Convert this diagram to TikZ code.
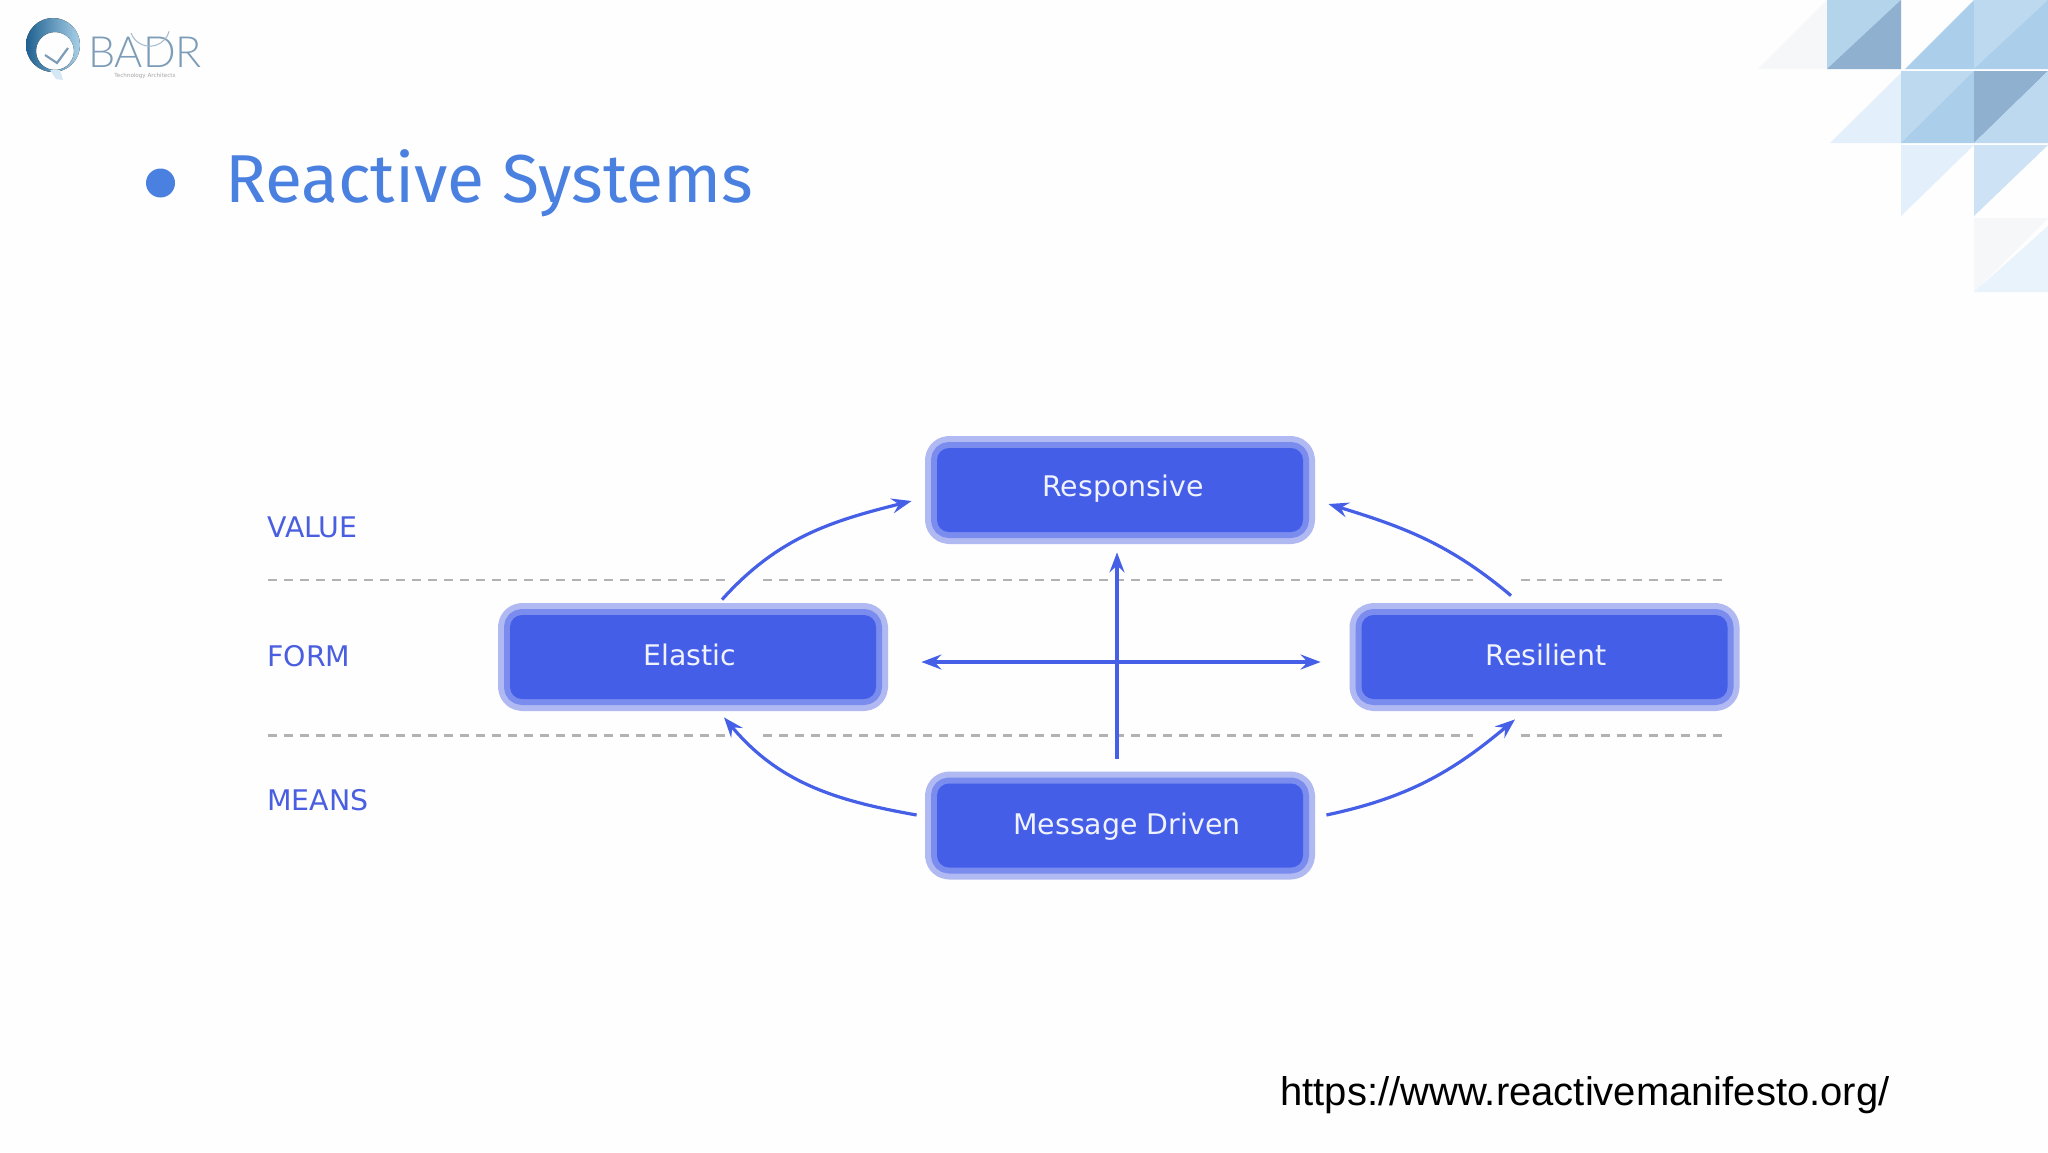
\documentclass[tikz,border=0pt]{standalone}
\usepackage{fontspec}
\setmainfont{DejaVu Sans}
\newfontfamily\titlefont{Fira Sans}
\newfontfamily\urlfont{Liberation Sans}
\newfontfamily\logofont{Lato}[UprightFont=* Light]
\usetikzlibrary{arrows.meta,calc}
\definecolor{boxin}{HTML}{445EE8}
\definecolor{boxmid}{HTML}{7A8CEE}
\definecolor{boxout}{HTML}{B0B9F2}
\definecolor{conn}{HTML}{4560E6}
\definecolor{lab}{HTML}{4A5EE0}
\definecolor{ttl}{HTML}{4A80E0}
\definecolor{tdark}{HTML}{8FB0CF}
\definecolor{tmid}{HTML}{ABCFEA}
\definecolor{tlite}{HTML}{BCD9F0}
\definecolor{tpale}{HTML}{E3F0FB}
\definecolor{tfaint}{HTML}{F6F7F9}
\definecolor{logodark}{HTML}{1F6190}
\definecolor{logolite}{HTML}{A8D0E8}
\definecolor{logotext}{HTML}{7C9CB8}
\tikzset{
  x=0.5pt,y=-0.5pt,
  sysbox/.style={rounded corners=6pt,line join=round,fill=boxin,text=white!92!boxin,
    minimum width=183pt,minimum height=42pt,inner sep=0pt,text height=7pt,text depth=2pt,
    font=\fontsize{14.2}{14.2}\selectfont,
    preaction={draw=boxout,line width=12pt},
    preaction={draw=boxmid,line width=6pt}},
  link/.style={draw=conn,line width=1.6pt,-{Stealth[length=10pt,width=7.5pt,inset=3.5pt]}},
  linkboth/.style={draw=conn,line width=1.6pt,{Stealth[length=10pt,width=7.5pt,inset=3.5pt]}-{Stealth[length=10pt,width=7.5pt,inset=3.5pt]}},
  divider/.style={draw=black!30,line width=1.4pt,dash pattern=on 4.5pt off 3.5pt},
  rowlabel/.style={text=lab,anchor=west,inner sep=0pt,font=\fontsize{14.2}{14.2}\selectfont},
}
\newcommand{\boxtext}[3]{\hspace*{#1pt}\raisebox{#2pt}{#3}}
\begin{document}
\begin{tikzpicture}
\useasboundingbox (0,0) rectangle (2048,1152);
\fill[white!99.5!black] (0,0) rectangle (2048,1152);
% mosaic
\fill[tfaint] (1758,69)--(1827,69)--(1827,0)--cycle;
\fill[tmid!90!white] (1827,0) rectangle (1901,69);
\fill[tdark] (1827,69)--(1901,69)--(1901,0)--cycle;
\fill[tmid] (1905,69)--(1974,69)--(1974,0)--cycle;
\fill[tlite] (1974,0) rectangle (2048,69);
\fill[tmid] (1974,69)--(2048,69)--(2048,0)--cycle;
\fill[tpale] (1830,143)--(1901,143)--(1901,73)--cycle;
\fill[tlite] (1901,71) rectangle (1974,143);
\fill[tmid] (1901,143)--(1974,143)--(1974,71)--cycle;
\fill[tdark] (1974,71)--(2048,71)--(1974,143)--cycle;
\fill[tlite] (2048,71)--(2048,143)--(1974,143)--cycle;
\fill[tpale] (1901,145)--(1974,145)--(1901,216)--cycle;
\fill[tlite!75!white] (1974,145)--(2048,145)--(1974,216)--cycle;
\fill[tfaint] (1974,218)--(2048,218)--(1974,292)--cycle;
\fill[tpale!80!white] (2048,226)--(2048,292)--(1974,292)--cycle;
% logo
\fill[even odd rule,left color=logodark,right color=logolite]
  (53,45) circle[radius=27] (55,51) circle[radius=19];
\fill[logolite!50!white] (50,70) -- (60,70) -- (63,80) -- (56,79) --cycle;
\draw[logotext,line width=1.1pt] (45,55) -- (57,63) -- (68,48);
\node[inner sep=0pt,anchor=center,text=logotext] (brand) at (145,52)
  {\logofont\fontsize{21.5}{21.5}\selectfont BADR};
\draw[logotext!70!white,line width=.5pt] (131,33) arc[start angle=160,end angle=15,radius=20];
\node[inner sep=0pt,text=gray!70!white] (brandsub) at (145,76)
  {\fontsize{2.8}{2.8}\selectfont Technology Architects};
% title
\fill[ttl] (160.5,183) circle[radius=14.5];
\node[anchor=west,inner sep=0pt,text=ttl] (title) at (225,183)
  {\titlefont\fontsize{33.9}{33.9}\selectfont Reactive Systems};
% boxes
\node[sysbox] (resp) at (1120,490) {\boxtext{3}{-0.5}{Responsive}};
\node[sysbox] (ela) at (693,657) {\boxtext{-3}{-1.85}{Elastic}};
\node[sysbox] (res) at (1544.5,657) {\boxtext{1.5}{-1.85}{Resilient}};
\node[sysbox] (msg) at (1120,825.5) {\boxtext{7}{-1.85}{Message Driven}};
% row labels
\node[rowlabel] (lvalue) at (267,527) {VALUE};
\node[rowlabel] (lform) at (267,656) {FORM};
\node[rowlabel] (lmeans) at (267,800) {MEANS};
% dividers
\coordinate (d1a) at (268,580); \coordinate (d1b) at (725,580);
\coordinate (d1c) at (763,580); \coordinate (d1d) at (1473,580);
\coordinate (d1e) at (1521,580); \coordinate (d1f) at (1724,580);
\coordinate (d2a) at (268,735.5); \coordinate (d2b) at (725,735.5);
\coordinate (d2c) at (763,735.5); \coordinate (d2d) at (1473,735.5);
\coordinate (d2e) at (1521,735.5); \coordinate (d2f) at (1724,735.5);
\draw[divider] (d1a)--(d1b) (d1c)--(d1d) (d1e)--(d1f);
\draw[divider] (d2a)--(d2b) (d2c)--(d2d) (d2e)--(d2f);
% connectors
\draw[link] ($(ela.north)+(29,-15)$) to[out=48,in=194] ($(resp.west)+(-25,11)$);
\draw[link] ($(res.north)+(-33.5,-19)$) to[out=140,in=-17] ($(resp.east)+(25,14)$);
\draw[link] ($(msg.west)+(-20,-10.5)$) to[out=170,in=-50] ($(ela.south)+(31,18)$);
\draw[link] ($(msg.east)+(23,-10.5)$) to[out=12,in=-140] ($(res.south)+(-29.5,20)$);
\draw[link] ($(msg.north)+(-3,-24)$) -- ($(resp.south)+(-3,20)$);
\draw[linkboth] ($(ela.east)+(45,5)$) -- ($(res.west)+(-40.5,5)$);
% url
\node[inner sep=0pt,anchor=center] (url) at (1585,1095)
  {\urlfont\fontsize{20}{20}\selectfont https://www.reactivemanifesto.org/};
\end{tikzpicture}
\end{document}
